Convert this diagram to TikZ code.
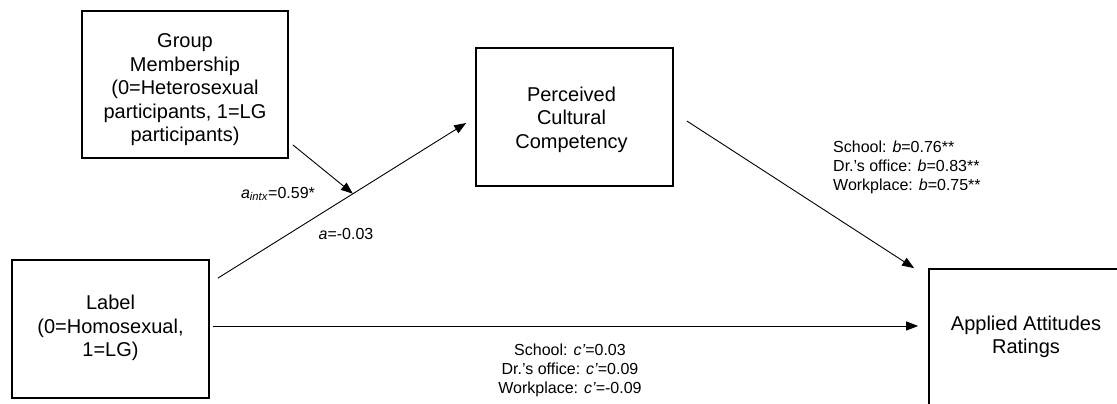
\documentclass[tikz,border=0pt]{standalone}
\usepackage{fontspec}
\setmainfont{Liberation Sans}
\usetikzlibrary{arrows.meta,calc}
\tikzset{
  varbox/.style={draw, line width=1.7pt, inner sep=0pt},
  vartext/.style={inner sep=0pt, align=center, font=\fontsize{20}{23.5}\selectfont},
  pathlbl/.style={inner sep=0pt, font=\fontsize{16}{19}\selectfont},
  conn/.style={line width=0.9pt, -{Triangle[length=12pt,width=9pt]}}
}
\begin{document}
\begin{tikzpicture}[x=1pt,y=-1pt]
\useasboundingbox (0,0) rectangle (1117,404);
\clip (0,0) rectangle (1117,404);
\node[varbox, minimum width=206pt, minimum height=147pt] (grp) at (185,84.5) {};
\node[vartext] (grpT) at ($(grp.center)+(0,5.5)$) {Group\\Membership\\(0=Heterosexual\\participants, 1=LG\\participants)};
\node[varbox, minimum width=197pt, minimum height=138pt] (pcc) at (574.5,117) {};
\node[vartext] (pccT) at ($(pcc.center)+(-3,2.5)$) {Perceived\\Cultural\\Competency};
\node[varbox, minimum width=197pt, minimum height=138pt] (lbl) at (110.5,329) {};
\node[vartext] (lblT) at ($(lbl.center)+(0,-1)$) {Label\\(0=Homosexual,\\1=LG)};
\node[varbox, minimum width=196pt, minimum height=140pt] (app) at (1027,339) {};
\node[vartext] (appT) at ($(app.center)+(-1,-2)$) {Applied Attitudes\\Ratings};
% a path
\coordinate (astart) at ($(lbl.north east)+(8,19)$);
\coordinate (aend) at ($(pcc.west)+(-9,6)$);
\draw[conn] (astart) -- (aend);
\path (astart) -- (aend) coordinate[pos=0.544] (amid);
% moderator
\draw[conn] ($(grp.south east)+(4,-14)$) -- (amid);
% b path
\draw[conn] ($(pcc.east)+(13,4)$) -- ($(app.north west)+(-14,0)$);
% c path
\draw[conn] ($(lbl.east)+(3,-3)$) -- ($(app.west |- lbl.east)+(-10,-3)$);
% labels
\node[pathlbl] (lintx) at (278,194) {\textit{a}\textsubscript{\textit{intx}}=0.59*};
\node[pathlbl] (la) at (346,234) {\textit{a}=-0.03};
\node[pathlbl, anchor=west, align=left] (lb) at (833,167.5) {School: \textit{b}=0.76**\\Dr.’s office: \textit{b}=0.83**\\Workplace: \textit{b}=0.75**};
\node[pathlbl, align=center] (lc) at (570,370) {School: \textit{c’}=0.03\\Dr.’s office: \textit{c’}=0.09\\Workplace: \textit{c’}=-0.09};
\end{tikzpicture}
\end{document}
